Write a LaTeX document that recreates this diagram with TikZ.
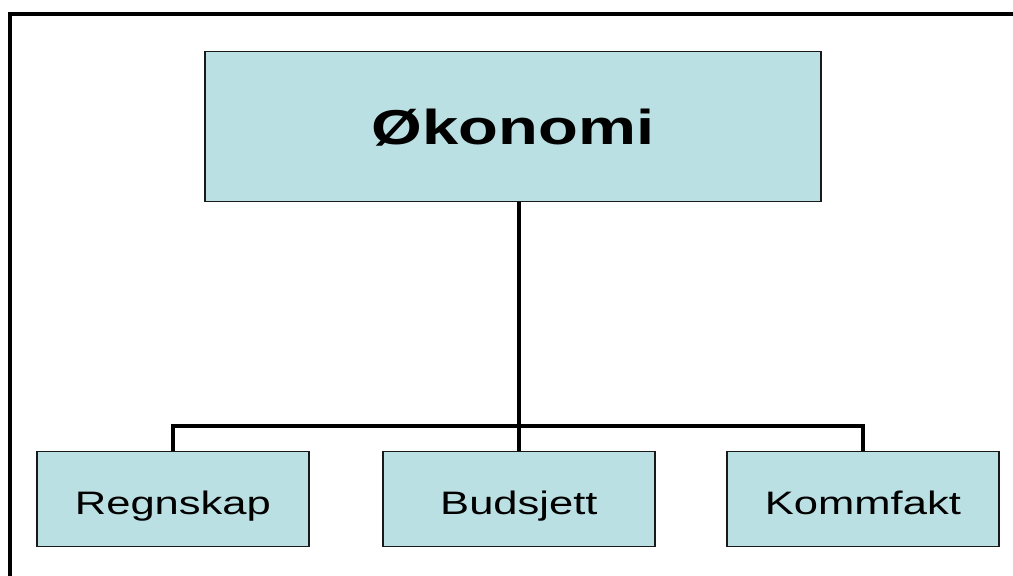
\documentclass[tikz,border=0pt]{standalone}
\usepackage{fontspec}
\setmainfont{Liberation Sans}
\usepackage{graphicx}
\definecolor{boxfill}{RGB}{187,224,227}
\definecolor{boxline}{RGB}{25,25,25}
\begin{document}
\begin{tikzpicture}[x=1pt,y=-1pt,
  orgbox/.style={draw=boxline,line width=1.8pt,fill=boxfill,inner sep=0pt,anchor=north west},
  link/.style={line width=4pt},
  bottomlabel/.style={anchor=base,inner sep=0pt,font=\fontsize{32.5}{32.5}\selectfont}]
\useasboundingbox (0,0) rectangle (1013,576);
% outer frame (open to the right and bottom)
\draw[line width=4pt] (10,580) -- (10,13.5) -- (1020,13.5);
% boxes
\node[orgbox,minimum width=616pt,minimum height=150pt] (top) at (204,50.5) {};
\node[orgbox,minimum width=272pt,minimum height=95pt] (left) at (36,450.5) {};
\node[orgbox,minimum width=272pt,minimum height=95pt] (mid) at (382,450.5) {};
\node[orgbox,minimum width=272pt,minimum height=95pt] (right) at (726,450.5) {};
% connectors
\coordinate (bar) at (518,426);
\draw[link] (mid.north) -- (mid.north |- top.south);
\draw[link] (left.north) |- (bar) -| (right.north);
% labels
\node[anchor=base,inner sep=0pt] (toptext) at ([yshift=-17.8pt]top.center)
  {\scalebox{1.33}[1]{\fontsize{49}{49}\selectfont\bfseries Økonomi}};
\node[bottomlabel] (lefttext) at ([yshift=-15.5pt]left.center) {\scalebox{1.34}[1]{Regnskap}};
\node[bottomlabel] (midtext) at ([yshift=-15.5pt]mid.center) {\scalebox{1.34}[1]{Budsjett}};
\node[bottomlabel] (righttext) at ([yshift=-15.5pt]right.center) {\scalebox{1.34}[1]{Kommfakt}};
\end{tikzpicture}
\end{document}
